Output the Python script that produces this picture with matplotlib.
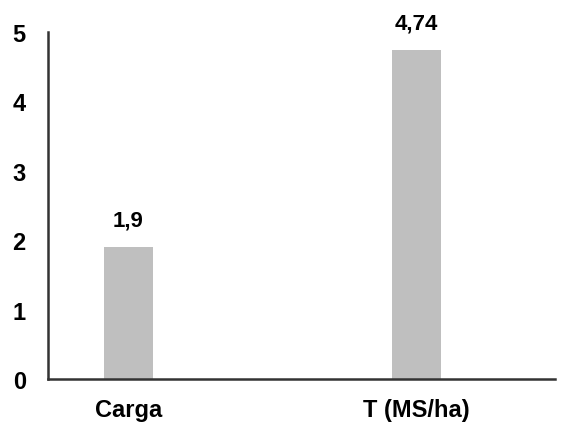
import matplotlib
matplotlib.use("Agg")
import matplotlib.pyplot as plt

categories = ["Carga", "T (MS/ha)"]
values = [1.9, 4.74]
value_labels = ["1,9", "4,74"]
yticks = [0, 1, 2, 3, 4, 5]

plt.rcParams['font.family'] = ['Liberation Sans', 'DejaVu Sans']

fig = plt.figure(figsize=(5.66, 4.27), dpi=100)
ax = fig.add_axes([48/566, 47/427, (555-48)/566, (380-33)/427])

x = list(range(len(categories)))
bars = ax.bar(x, values, width=0.17, color="#bfbfbf")
ax.set_xlim(-0.2795, 1.481)
ax.set_ylim(0, 5)
ax.set_yticks(yticks)
ax.set_yticklabels([str(t) for t in yticks], fontsize=17, fontweight='bold')
ax.set_xticks(x)
ax.set_xticklabels(categories, fontsize=17, fontweight='bold')
ax.tick_params(axis='y', length=0, pad=16)
ax.tick_params(axis='x', length=0, pad=14)
for s in ['top', 'right']:
    ax.spines[s].set_visible(False)
for s in ['left', 'bottom']:
    ax.spines[s].set_color('#333333')
    ax.spines[s].set_linewidth(1.8)

for xi, v, lab in zip(x, values, value_labels):
    ax.annotate(lab, (xi, v), xytext=(0, 12), textcoords='offset points',
                ha='center', va='bottom', fontsize=16, fontweight='bold')

fig.savefig("out.png", dpi=100)
